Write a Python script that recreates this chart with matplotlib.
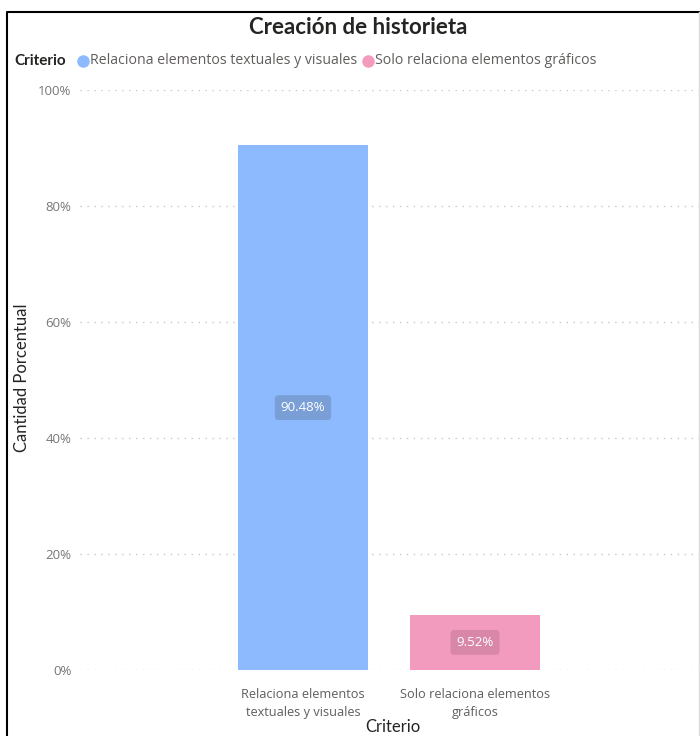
import matplotlib.pyplot as plt
from matplotlib.lines import Line2D
from matplotlib.ticker import FuncFormatter

# data
categories = ["Relaciona elementos textuales y visuales", "Solo relaciona elementos gráficos"]
tick_labels = ["Relaciona elementos\ntextuales y visuales", "Solo relaciona elementos\ngráficos"]
values = [90.48, 9.52]
colors = ["#8DBAFF", "#F39BBF"]
box_colors = ["#7A9FD6", "#D887A9"]
yticks = [0, 20, 40, 60, 80, 100]

plt.rcParams['font.family'] = ['Open Sans', 'DejaVu Sans']
head_font = ['Lato', 'DejaVu Sans']

W, H = 700, 736
fig = plt.figure(figsize=(W / 100, H / 100), dpi=100)

# axes placed in pixel terms
ax = fig.add_axes([80 / W, 1 - 670 / H, (700 - 80) / W, (670 - 90) / H])

x = list(range(len(categories)))
ax.bar(x, values, width=0.756, color=colors, zorder=2)

spacing = 172.0
ax.set_xlim(0 - (303 - 80) / spacing, 1 + (700 - 475) / spacing)
ax.set_ylim(0, 100)

ax.set_yticks(yticks)
ax.yaxis.set_major_formatter(FuncFormatter(lambda v, p: f"{v:.0f}%"))
ax.set_xticks(x)
ax.set_xticklabels(tick_labels, fontsize=9.2, color="#605E5C", linespacing=1.5)
ax.tick_params(axis='y', labelsize=9.5, labelcolor="#777777", length=0, pad=6)
ax.tick_params(axis='x', length=0, pad=13)
ax.grid(axis='y', color="#C8C8C8", linestyle=(0, (1, 4)), linewidth=1, zorder=0)
for s in ax.spines.values():
    s.set_visible(False)

# data labels
for xi, v, bc in zip(x, values, box_colors):
    ax.text(xi, v / 2, f"{v:.2f}%", ha='center', va='center', color="white",
            fontsize=9.5, zorder=3,
            bbox=dict(boxstyle="round,pad=0.45,rounding_size=0.3", fc=bc, ec="none"))

# axis titles
fig.text(22 / W, 1 - 378 / H, "Cantidad Porcentual", rotation=90, ha='center', va='center',
         fontsize=12, color="#252423", family=head_font)
fig.text(393 / W, 1 - 727 / H, "Criterio", ha='center', va='center',
         fontsize=12, color="#252423", family=head_font)

# title
fig.text(358 / W, 1 - 28 / H, "Creación de historieta", ha='center', va='center',
         fontsize=16, fontweight='bold', color="#252423", family=head_font)

# legend
ly = 1 - 61 / H
fig.text(14 / W, ly, "Criterio", ha='left', va='center', fontsize=11,
         fontweight='bold', color="#252423", family=head_font)
lx = [83, 368]
for px, lab, c in zip(lx, categories, colors):
    fig.add_artist(Line2D([px / W], [ly], marker='o', markersize=9, color=c,
                          markeredgewidth=0, transform=fig.transFigure))
    fig.text((px + 7) / W, ly, lab, ha='left', va='center', fontsize=10.2, color="#605E5C")

# frame border
fig.add_artist(Line2D([7 / W, 7 / W, 699 / W], [0, 1 - 12 / H, 1 - 12 / H],
                      color="black", linewidth=1.5, transform=fig.transFigure))
fig.add_artist(Line2D([699 / W, 699 / W], [0, 1 - 12 / H],
                      color="#DDDDDD", linewidth=1, transform=fig.transFigure))

fig.savefig("out.png", dpi=100)
